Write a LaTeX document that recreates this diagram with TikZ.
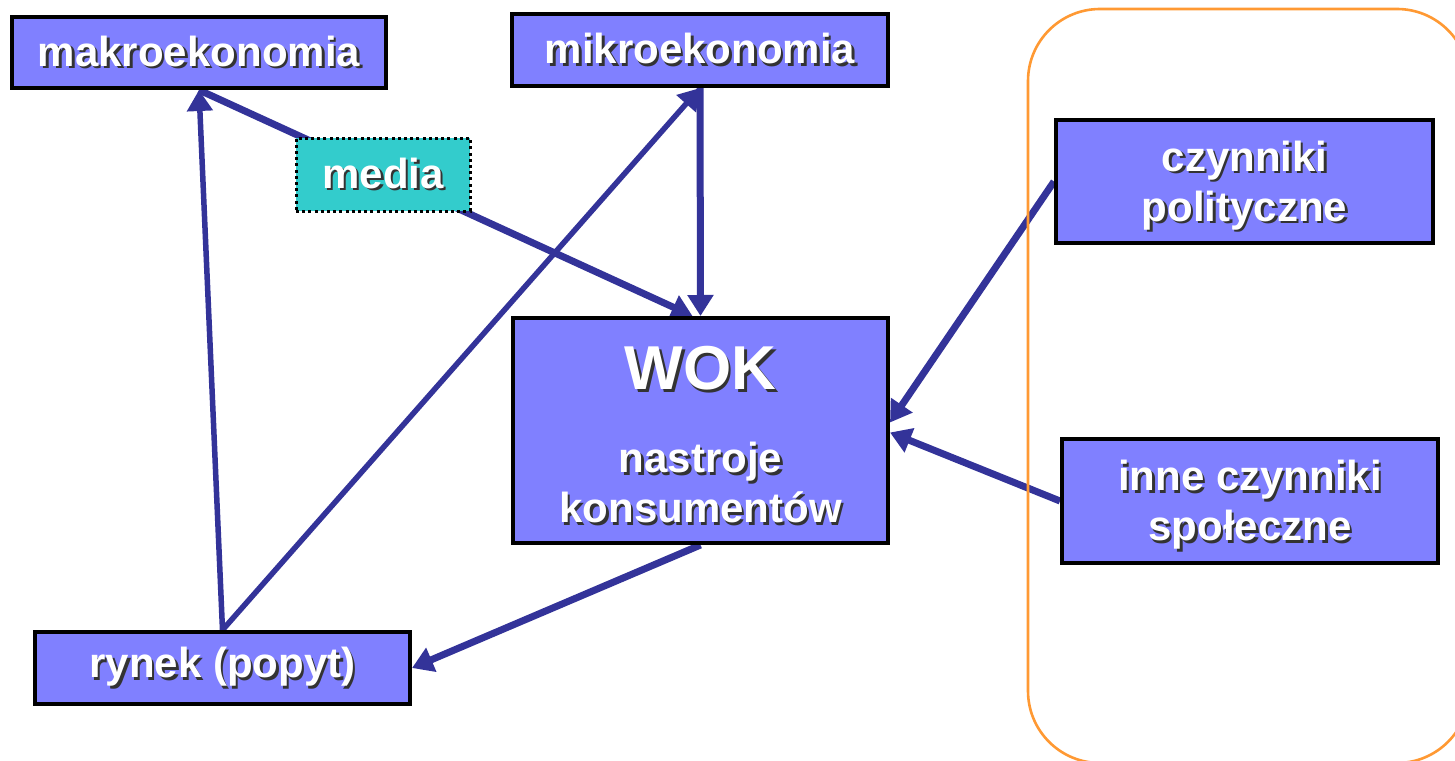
\documentclass[tikz,border=0pt]{standalone}
\usepackage{fontspec}
\setmainfont{Liberation Sans}
\usetikzlibrary{arrows.meta,backgrounds}
\definecolor{boxfill}{HTML}{8080FF}
\definecolor{arrcol}{HTML}{333399}
\definecolor{mediafill}{HTML}{33CCCC}
\definecolor{orng}{HTML}{FF9933}
\newcommand\sh[1]{\makebox[0pt][l]{\kern2.5pt\raisebox{-2.5pt}{\textcolor{black!80}{#1}}}\textcolor{white}{#1}}
\begin{document}
\begin{tikzpicture}[x=1pt,y=-1pt,
  box/.style={draw=black,line width=4pt,fill=boxfill,inner sep=0pt,align=center,
    font=\fontsize{42}{50}\selectfont\bfseries},
  mediabox/.style={box,draw=black,fill=mediafill,line width=3pt,dash pattern=on 3pt off 3.2pt},
  conn/.style={draw=arrcol,line width=7pt,-{Triangle[length=21pt,width=25pt]}},
  frame/.style={draw=orng,line width=2.6pt,rounded corners=72pt}
  ]
\useasboundingbox (0,0) rectangle (1455,760);
\node[box,minimum width=374pt,minimum height=71pt] (makro) at (199,52.5) {\sh{makroekonomia}};
\node[box,minimum width=376pt,minimum height=72pt] (mikro) at (700,50) {\sh{mikroekonomia}};
\node[mediabox,minimum width=174pt,minimum height=73pt] (media) at (383,174.5) {\sh{media}};
\node[box,minimum width=375pt,minimum height=225pt] (wok) at (700.5,430.5)
  {{\fontsize{62}{62}\selectfont\rule{0pt}{54pt}\sh{WOK}}\\[33pt]\sh{nastroje}\\\sh{konsumentów}};
\node[box,minimum width=377pt,minimum height=123pt] (czyn) at (1244.5,181.5) {\rule{0pt}{41pt}\sh{czynniki}\\\sh{polityczne}};
\node[box,minimum width=376pt,minimum height=124pt] (inne) at (1250,501) {\rule{0pt}{41pt}\sh{inne czynniki}\\\sh{społeczne}};
\node[box,minimum width=375pt,minimum height=72pt] (rynek) at (222.5,668) {\sh{rynek (popyt)}};
\begin{scope}[on background layer]
  \draw[conn,line width=5.5pt] (rynek.north) -- (makro.south);
  \draw[conn,line width=5.5pt] (rynek.north) -- (mikro.south);
  \draw[conn] (mikro.south) -- (wok.north);
  \draw[conn] (makro.south) -- ([xshift=-8pt]wok.north);
  \draw[conn] (wok.south) -- (rynek.east);
  \draw[conn] (czyn.west) -- ([yshift=8pt]wok.east);
  \draw[conn] (inne.west) -- ([yshift=-2pt]wok.east);
  \begin{scope}
    \clip (0,0) rectangle (1455,760);
    \draw[frame] (1028,9) rectangle (1469,763);
  \end{scope}
\end{scope}
\end{tikzpicture}
\end{document}
